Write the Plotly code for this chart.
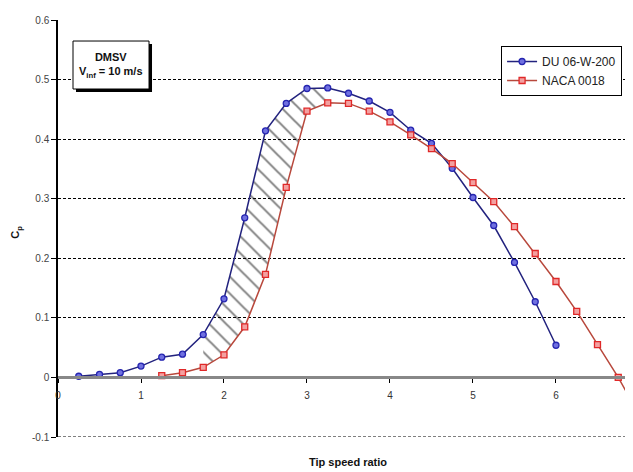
import plotly.graph_objects as go

# ---- data ----
du_tsr = [0.25, 0.5, 0.75, 1.0, 1.25, 1.5, 1.75, 2.0, 2.25, 2.5, 2.75, 3.0,
          3.25, 3.5, 3.75, 4.0, 4.25, 4.5, 4.75, 5.0, 5.25, 5.5, 5.75, 6.0]
du_cp = [0.002, 0.005, 0.008, 0.019, 0.034, 0.039, 0.072, 0.132, 0.268, 0.414,
         0.460, 0.485, 0.486, 0.477, 0.464, 0.445, 0.415, 0.393, 0.351, 0.302,
         0.255, 0.193, 0.127, 0.054]

naca_tsr = [1.25, 1.5, 1.75, 2.0, 2.25, 2.5, 2.75, 3.0, 3.25, 3.5, 3.75, 4.0,
            4.25, 4.5, 4.75, 5.0, 5.25, 5.5, 5.75, 6.0, 6.25, 6.5, 6.75, 7.0]
naca_cp = [0.003, 0.008, 0.017, 0.038, 0.085, 0.173, 0.319, 0.447, 0.461, 0.460,
           0.447, 0.429, 0.407, 0.384, 0.359, 0.327, 0.295, 0.253, 0.208, 0.161,
           0.111, 0.055, 0.0, -0.062]

x_ticks = [0, 1, 2, 3, 4, 5, 6, 7]
x_labels = ["0", "1", "2", "3", "4", "5", "6", "7"]
y_ticks = [-0.1, 0.0, 0.1, 0.2, 0.3, 0.4, 0.5, 0.6]
y_labels = ["-0.1", "0", "0.1", "0.2", "0.3", "0.4", "0.5", "0.6"]

hatch_lo, hatch_hi = 1.75, 3.25

FONT = "Liberation Sans, Arial, sans-serif"
GRIDDASH = "3px,2px"

fig = go.Figure()

# hatched region between the two curves
du_h = [(t, c) for t, c in zip(du_tsr, du_cp) if hatch_lo <= t <= hatch_hi]
na_h = [(t, c) for t, c in zip(naca_tsr, naca_cp) if hatch_lo <= t <= hatch_hi]
fig.add_trace(go.Scatter(x=[t for t, _ in du_h], y=[c for _, c in du_h],
                         mode="lines", line=dict(width=0), showlegend=False,
                         hoverinfo="skip"))
fig.add_trace(go.Scatter(x=[t for t, _ in na_h], y=[c for _, c in na_h],
                         mode="lines", line=dict(width=0), showlegend=False,
                         hoverinfo="skip", fill="tonexty",
                         fillcolor="rgba(0,0,0,0)",
                         fillpattern=dict(shape="\\", fgcolor="black",
                                          bgcolor="rgba(0,0,0,0)",
                                          size=12, solidity=0.16)))

fig.add_trace(go.Scatter(
    x=du_tsr, y=du_cp, mode="lines+markers", name="DU 06-W-200",
    line=dict(color="#22227e", width=1.5),
    marker=dict(symbol="circle", size=6, color="#7070e0",
                line=dict(color="#2525b0", width=1.3))))
fig.add_trace(go.Scatter(
    x=naca_tsr, y=naca_cp, mode="lines+markers", name="NACA 0018",
    line=dict(color="#b8483c", width=1.5),
    marker=dict(symbol="square", size=6, color="#f3a0a0",
                line=dict(color="#e02828", width=1.3))))

# page body has an 8px margin -> figure is 625x464 placed at (8, 8)
fig.update_layout(
    width=625, height=464,
    margin=dict(l=50, r=0, t=12, b=35),
    paper_bgcolor="white", plot_bgcolor="white",
    font=dict(family=FONT, color="#333333", size=10),
    showlegend=True,
    legend=dict(x=0.981, xanchor="right", y=0.9376, yanchor="top",
                traceorder="normal",
                bgcolor="white", bordercolor="black", borderwidth=1,
                font=dict(size=12, color="#222222"), tracegroupgap=0),
    xaxis=dict(range=[0, 6.928], tickvals=x_ticks, ticktext=x_labels,
               showgrid=False, zeroline=False, showline=True,
               linecolor="#888888", linewidth=3, anchor="free",
               position=1 / 7, ticks="outside", ticklen=4, tickwidth=1,
               tickcolor="black", tickfont=dict(size=10, color="#333333"),
               ticklabelstandoff=4),
    yaxis=dict(range=[y_ticks[0], y_ticks[-1]], tickvals=y_ticks,
               ticktext=y_labels,
               showgrid=True, gridcolor="black", gridwidth=1,
               griddash=GRIDDASH, zeroline=False, showline=True,
               linecolor="black", linewidth=1.5, ticks="outside", ticklen=5,
               tickcolor="black", tickfont=dict(size=10, color="#444444")),
    shapes=[
        # bottom gridline (plotly drops the gridline at the range edge)
        dict(type="line", xref="paper", yref="y", x0=0, x1=1,
             y0=y_ticks[0], y1=y_ticks[0],
             line=dict(color="black", width=1, dash=GRIDDASH),
             layer="below"),
        dict(type="rect", xref="paper", yref="paper",
             x0=0.0261 + 0.0052, x1=0.1583 + 0.0052,
             y0=0.8345 - 0.0072, y1=0.9496 - 0.0072,
             fillcolor="black", line=dict(width=0), layer="above"),
        dict(type="rect", xref="paper", yref="paper",
             x0=0.0261, x1=0.1583, y0=0.8345, y1=0.9496,
             fillcolor="white", line=dict(color="black", width=1),
             layer="above"),
    ],
    annotations=[
        dict(text="<b>DMSV</b><br><b>V<sub>inf</sub> = 10 m/s</b>",
             xref="paper", yref="paper", x=0.0922, y=0.892,
             xanchor="center", yanchor="middle", showarrow=False,
             font=dict(size=11, color="#111111")),
        dict(text="<b>C<sub>p</sub></b>", xref="paper", yref="paper",
             x=-0.073, y=0.49, textangle=-90, xanchor="center",
             yanchor="middle", showarrow=False,
             font=dict(size=11, color="#111111")),
        dict(text="<b>Tip speed ratio</b>", xref="paper", yref="paper",
             x=0.504, y=-0.06, xanchor="center", yanchor="middle",
             showarrow=False, font=dict(size=11, color="#111111")),
    ],
)

fig.write_html("out.html")
